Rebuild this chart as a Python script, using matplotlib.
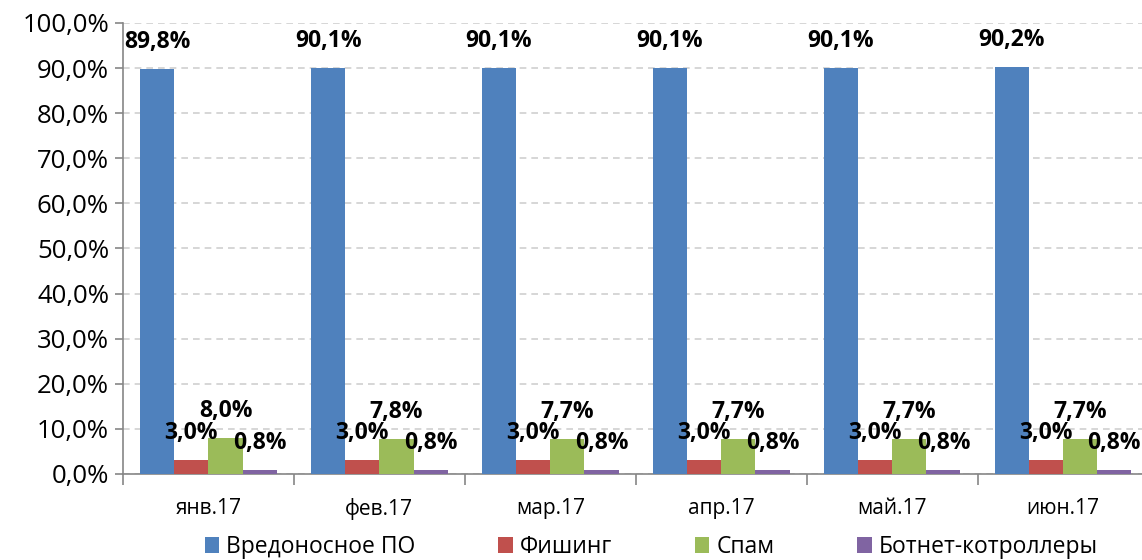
import matplotlib

matplotlib.use("Agg")
import matplotlib.pyplot as plt
import numpy as np

plt.rcParams["font.family"] = ["Open Sans", "DejaVu Sans"]

months = ["янв.17", "фев.17", "мар.17", "апр.17", "май.17", "июн.17"]
series_names = ["Вредоносное ПО", "Фишинг", "Спам", "Ботнет-котроллеры"]
malware = [89.8, 90.1, 90.1, 90.1, 90.1, 90.2]
phishing = [3.0, 3.0, 3.0, 3.0, 3.0, 3.0]
spam = [8.0, 7.8, 7.7, 7.7, 7.7, 7.7]
botnet = [0.8, 0.8, 0.8, 0.8, 0.8, 0.8]
colors = ["#4F81BD", "#C0504D", "#9BBB59", "#8064A2"]

fig = plt.figure(figsize=(11.42, 5.6), dpi=100)
ax = fig.add_axes([0.1077, 0.1536, 0.898, 0.8054])

x = np.arange(len(months))
width = 0.2
all_series = [malware, phishing, spam, botnet]
for i, (vals, name, col) in enumerate(zip(all_series, series_names, colors)):
    pos = x + (i - 1.5) * width
    ax.bar(pos, vals, width, color=col, label=name, zorder=3)
    for px, v in zip(pos, vals):
        ax.text(px, v + 6, f"{v:.1f}%".replace(".", ","), ha="center", va="center",
                fontsize=16.5, fontweight="bold", zorder=4)

ax.set_xlim(-0.5, len(months) - 0.5)
ax.set_ylim(0, 100)
ax.set_yticks(np.arange(0, 101, 10))
ax.set_yticklabels([f"{t:.1f}%".replace(".", ",") for t in np.arange(0, 101, 10)], fontsize=18.5)
ax.set_xticks(x)
ax.set_xticklabels(months, fontsize=15)
ax.set_xticks(np.arange(-0.5, len(months)), minor=True)
ax.tick_params(axis="x", which="major", length=0, pad=17)
ax.tick_params(axis="x", which="minor", length=8, color="#868686", width=1.2)
ax.tick_params(axis="y", length=6, color="#868686", width=1.2, pad=4)

ax.grid(axis="y", linestyle=(0, (4, 3)), color="#D0D0D0", linewidth=1.2, zorder=0)
for side in ["top", "right"]:
    ax.spines[side].set_visible(False)
for side in ["left", "bottom"]:
    ax.spines[side].set_color("#868686")
    ax.spines[side].set_linewidth(1.2)

ax.legend(loc="center", bbox_to_anchor=(0.515, -0.162), ncol=4, frameon=False,
          fontsize=16.5, handlelength=0.65, handleheight=0.65, handletextpad=0.3,
          columnspacing=3.6, borderpad=0)

fig.savefig("out.png", dpi=100)
